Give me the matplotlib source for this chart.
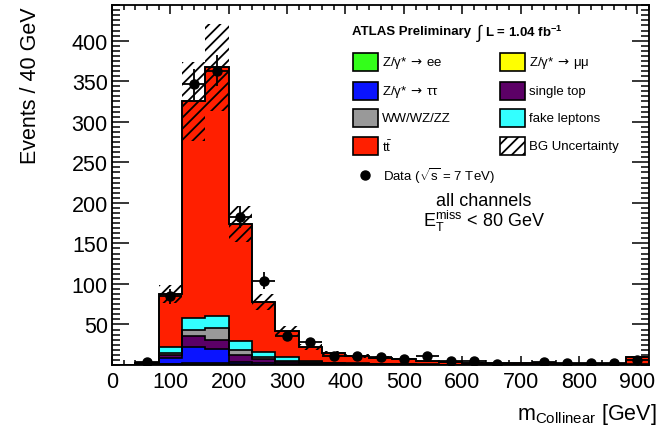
import matplotlib.pyplot as plt
import numpy as np
import matplotlib.patches as patches
from matplotlib.ticker import MultipleLocator, AutoMinorLocator

plt.rcParams['font.family'] = ['Liberation Sans', 'DejaVu Sans']
plt.rcParams['mathtext.fontset'] = 'custom'
plt.rcParams['mathtext.rm'] = 'Liberation Sans'
plt.rcParams['mathtext.it'] = 'Liberation Sans:italic'
plt.rcParams['mathtext.bf'] = 'Liberation Sans:bold'
plt.rcParams['hatch.linewidth'] = 1.3

# bins of 40 GeV, 0 - 920 GeV (last bin holds overflow)
edges = np.arange(0, 921, 40)
centers = edges[:-1] + 20

total = [0, 3, 88, 325, 367, 174, 78, 42, 22, 15, 11, 9, 7, 5, 4, 3, 2.5,
         2, 2, 1.5, 1.5, 1.5, 10]
z_ee = [0, 0.2, 0.8, 1.0, 1.0, 0.5, 0.3, 0.2, 0.1, 0.1, 0, 0, 0, 0, 0, 0, 0,
        0, 0, 0, 0, 0, 0]
z_mumu = [0, 0.2, 0.8, 1.0, 1.0, 0.5, 0.3, 0.2, 0.1, 0.1, 0, 0, 0, 0, 0, 0, 0,
          0, 0, 0, 0, 0, 0]
z_tautau = [0, 0.8, 7, 20, 18, 3, 2, 1, 0.5, 0.3, 0.2, 0.1, 0.1, 0, 0, 0, 0,
            0, 0, 0, 0, 0, 0]
single_top = [0, 0.5, 4, 14, 11, 8.5, 5, 2.5, 1.5, 1, 0.8, 0.6, 0.5, 0.4, 0.3,
              0.2, 0.2, 0.1, 0.1, 0.1, 0.1, 0.1, 0.3]
diboson = [0, 0.3, 2, 7, 15, 6.5, 2.5, 1.5, 1, 0.5, 0.3, 0.3, 0.2, 0.2, 0.1,
           0.1, 0.1, 0.1, 0.1, 0.1, 0.1, 0.1, 0.2]
fakes = [0, 0.5, 8, 15, 14, 11, 6, 4.5, 2, 1, 0.6, 0.5, 0.4, 0.3, 0.2, 0.2,
         0.1, 0.1, 0.1, 0.1, 0.1, 0.1, 0.5]
bg_unc = [0, 0.5, 11, 49, 54, 22, 10, 6, 3.5, 2.5, 2, 1.5, 1.2, 1, 0.8, 0.6,
          0.5, 0.4, 0.4, 0.3, 0.3, 0.3, 1.5]

data = [np.nan, 4, 85, 346, 363, 183, 104, 36, 28, 11, 11, 10, 7, 11, 5, 5, 1,
        np.nan, 4, 3, 3, 2, 6]

ttbar = np.array(total) - (np.array(z_ee) + np.array(z_mumu) + np.array(z_tautau)
                           + np.array(single_top) + np.array(diboson) + np.array(fakes))
ttbar = np.clip(ttbar, 0, None)

arrow = r'$\,\rightarrow\,$'
stack = [
    (z_ee, '#33ff1a', 'Z/γ*' + arrow + 'ee'),
    (z_mumu, '#ffff00', 'Z/γ*' + arrow + 'μμ'),
    (z_tautau, '#0a14ff', 'Z/γ*' + arrow + 'ττ'),
    (single_top, '#5c0066', 'single top'),
    (diboson, '#999999', 'WW/WZ/ZZ'),
    (fakes, '#33ffff', 'fake leptons'),
    (ttbar, '#ff1f00', r'$\mathregular{t\bar{t}}$'),
]

W, H = 671, 435
fig = plt.figure(figsize=(W / 100, H / 100), dpi=100)
ax = fig.add_axes([112 / W, 1 - 366 / H, (649 - 112) / W, (366 - 6) / H])

def fx(px):
    return px / W

def fy(py):
    return 1 - py / H

# stacked histograms
base = np.zeros(len(centers))
for vals, col, lab in stack:
    top = base + np.array(vals, dtype=float)
    ax.stairs(top, edges, baseline=base, fill=True, facecolor=col, edgecolor='none', zorder=2)
    ax.stairs(top, edges, baseline=None, color='black', lw=1.2, zorder=3)
    base = top

# outline of the total
ax.stairs(base, edges, baseline=0, color='black', lw=1.2, zorder=3)

# background uncertainty band
tot = np.array(total, dtype=float)
unc = np.array(bg_unc, dtype=float)
ax.bar(centers, 2 * unc, bottom=tot - unc, width=40, fill=False, hatch='///',
       edgecolor='black', linewidth=0, zorder=4)

# data
d = np.array(data, dtype=float)
ax.errorbar(centers, d, yerr=np.sqrt(np.nan_to_num(d)), xerr=20, fmt='o', color='black',
            markersize=6.5, elinewidth=1.3, capsize=0, zorder=6)

ax.set_xlim(0, 920)
ax.set_ylim(0, 444)
ax.xaxis.set_major_locator(MultipleLocator(100))
ax.xaxis.set_minor_locator(MultipleLocator(20))
ax.yaxis.set_major_locator(MultipleLocator(50))
ax.yaxis.set_minor_locator(AutoMinorLocator(8))
ax.tick_params(which='both', direction='in', top=True, right=True, width=1.1)
ax.tick_params(axis='y', which='major', length=12.5, labelsize=15.5, pad=3)
ax.tick_params(axis='y', which='minor', length=6)
ax.tick_params(axis='x', which='major', length=6.5, labelsize=15.5, pad=4)
ax.tick_params(axis='x', which='minor', length=3.3)
ax.set_yticks(np.arange(50, 401, 50))
for s in ax.spines.values():
    s.set_linewidth(1.3)

fig.text(fx(31), fy(7), 'Events / 40 GeV', rotation=90, ha='center', va='top', fontsize=15.5)
fig.text(fx(657), fy(420), r'm$_{\mathregular{Collinear}}$ [GeV]', ha='right', va='baseline',
         fontsize=15.5)

# legend, drawn ROOT style
fig.text(fx(352), fy(32), 'ATLAS Preliminary', fontsize=9.5, fontweight='bold', va='center')
fig.text(fx(476), fy(33), r'$\int$', fontsize=13, va='center')
fig.text(fx(485), fy(32), r'L = 1.04 fb$^{\mathregular{-1}}$', fontsize=9.5,
         fontweight='bold', va='center')

rows = [63, 92, 119, 147]
entries = [
    (0, 0, stack[0]), (1, 0, stack[1]),
    (0, 1, stack[2]), (1, 1, stack[3]),
    (0, 2, stack[4]), (1, 2, stack[5]),
    (0, 3, stack[6]),
]
col_x = [353, 500]
for c, r, (vals, color, lab) in entries:
    x0 = col_x[c]
    yc = rows[r]
    rect = patches.Rectangle((fx(x0), fy(yc + 9)), 25 / W, 18 / H, transform=fig.transFigure,
                             facecolor=color, edgecolor='black', linewidth=1.2)
    fig.patches.append(rect)
    mf = 'dejavusans' if arrow in lab else 'custom'
    fig.text(fx(x0 + 29), fy(yc), lab, fontsize=9.5, va='center', math_fontfamily=mf)

rect = patches.Rectangle((fx(500), fy(147 + 9)), 25 / W, 18 / H, transform=fig.transFigure,
                         facecolor='white', edgecolor='black', linewidth=1.2, hatch='///')
fig.patches.append(rect)
fig.text(fx(529), fy(147), 'BG Uncertainty', fontsize=9.5, va='center')

fig.lines.append(plt.Line2D([fx(365)], [fy(176)], marker='o', color='black', markersize=6.5,
                            transform=fig.transFigure))
fig.text(fx(383), fy(176), r'Data ($\sqrt{\mathregular{s}}$ = 7 TeV)', fontsize=9.5, va='center')

fig.text(fx(484), fy(201), 'all channels', fontsize=13, ha='center', va='center')
fig.text(fx(484), fy(221), r'$\mathregular{E_T^{miss}}$ < 80 GeV', fontsize=13,
         ha='center', va='center')

fig.savefig('out.png', dpi=100, facecolor='white')
